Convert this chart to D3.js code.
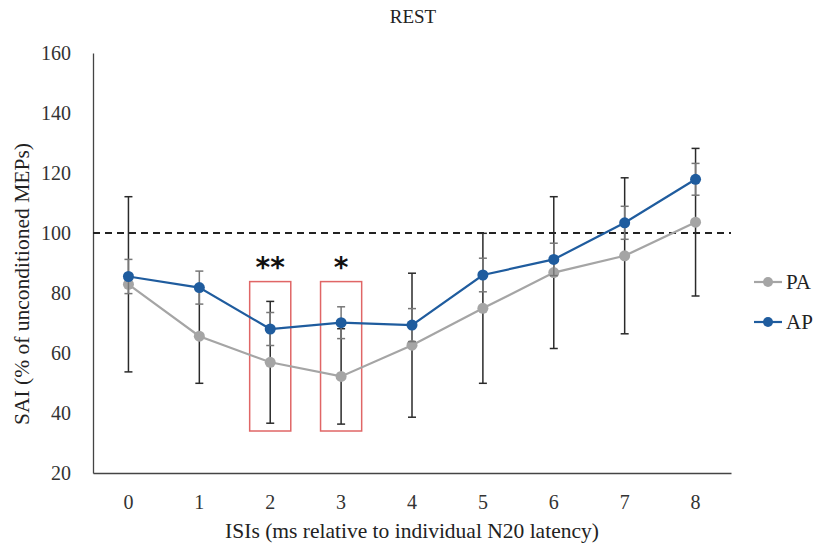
<!DOCTYPE html>
<html>
<head>
<meta charset="utf-8">
<script src="https://cdn.jsdelivr.net/npm/d3@7"></script>
<style>
  body { margin: 0; background: #fff; }
</style>
</head>
<body>
<div id="chart"></div>
<script>
const isis = ["0", "1", "2", "3", "4", "5", "6", "7", "8"];
const paMean = [82.9, 65.6, 56.9, 52.2, 62.6, 74.9, 86.8, 92.4, 103.6];
const paErr = [29.2, 15.7, 20.3, 15.9, 24.0, 25.0, 25.3, 26.0, 24.6];
const apMean = [85.5, 81.8, 68.0, 70.1, 69.3, 86.0, 91.2, 103.4, 117.9];
const apErr = [5.7, 5.5, 5.5, 5.3, 5.5, 5.6, 5.4, 5.5, 5.3];
const yTicks = [20, 40, 60, 80, 100, 120, 140, 160];
const signif = [{isi: "2", mark: "**"}, {isi: "3", mark: "*"}];

const SERIF = "'Liberation Serif', 'DejaVu Serif', serif";

var width = 827,
    height = 546;

var svg = d3.select("#chart").append("svg")
    .attr("width", width)
    .attr("height", height);

const x = d3.scaleBand().domain(isis).range([93, 731]);
const y = d3.scaleLinear().domain([20, 160]).range([473, 53]);
const cx = d => x(d) + x.bandwidth() / 2;

// y axis
const yAxis = svg.append("g")
    .attr("transform", "translate(93,0)")
    .call(d3.axisLeft(y).tickValues(yTicks).tickSize(0).tickPadding(22));
yAxis.select(".domain").attr("stroke", "#444").attr("stroke-width", 1.3);
yAxis.selectAll("text")
    .style("font-family", SERIF).style("font-size", "20px").attr("fill", "#333");

// x axis
const xAxis = svg.append("g")
    .attr("transform", "translate(0,473)")
    .call(d3.axisBottom(x).tickSize(0).tickPadding(22));
xAxis.select(".domain").attr("stroke", "#444").attr("stroke-width", 1.3);
xAxis.selectAll("text")
    .style("font-family", SERIF).style("font-size", "20px").attr("fill", "#333");

// reference line at 100
svg.append("line")
    .attr("x1", 93).attr("x2", 731)
    .attr("y1", y(100)).attr("y2", y(100))
    .attr("stroke", "#222")
    .attr("stroke-width", 1.8)
    .attr("stroke-dasharray", "7,5");

// titles
svg.append("text")
    .attr("x", 413).attr("y", 23)
    .attr("text-anchor", "middle")
    .style("font-family", SERIF)
    .style("font-size", "19px")
    .attr("fill", "#222")
    .text("REST");

svg.append("text")
    .attr("x", 412).attr("y", 538)
    .attr("text-anchor", "middle")
    .style("font-family", SERIF)
    .style("font-size", "21.5px")
    .attr("fill", "#222")
    .text("ISIs (ms relative to individual N20 latency)");

svg.append("text")
    .attr("transform", "translate(29,284) rotate(-90)")
    .attr("text-anchor", "middle")
    .style("font-family", SERIF)
    .style("font-size", "21.5px")
    .attr("fill", "#222")
    .text("SAI (% of unconditioned MEPs)");

// significance boxes
const boxHalf = x.bandwidth() * 0.29;
svg.append("g")
  .selectAll("rect")
  .data(signif)
  .join("rect")
    .attr("x", d => cx(d.isi) - boxHalf)
    .attr("width", boxHalf * 2)
    .attr("y", y(83.8))
    .attr("height", y(34) - y(83.8))
    .attr("fill", "none")
    .attr("stroke", "#e06666")
    .attr("stroke-width", 1.5);

svg.append("g")
  .selectAll("text")
  .data(signif)
  .join("text")
    .attr("x", d => cx(d.isi))
    .attr("y", y(83.8) - 5)
    .attr("text-anchor", "middle")
    .style("font-family", "'DejaVu Sans', sans-serif")
    .style("font-size", "28px")
    .style("font-weight", "bold")
    .attr("fill", "#111")
    .text(d => d.mark);

function series(mean, err, barColor) {
  const pts = isis.map((k, i) => ({k: k, m: mean[i], e: err[i]}));
  const g = svg.append("g");
  // error bars
  const eb = g.append("g").attr("stroke", barColor).attr("stroke-width", 1.5);
  eb.selectAll("line.v").data(pts).join("line").attr("class", "v")
      .attr("x1", d => cx(d.k)).attr("x2", d => cx(d.k))
      .attr("y1", d => y(d.m + d.e)).attr("y2", d => y(d.m - d.e));
  eb.selectAll("line.t").data(pts).join("line").attr("class", "t")
      .attr("x1", d => cx(d.k) - 4).attr("x2", d => cx(d.k) + 4)
      .attr("y1", d => y(d.m + d.e)).attr("y2", d => y(d.m + d.e));
  eb.selectAll("line.b").data(pts).join("line").attr("class", "b")
      .attr("x1", d => cx(d.k) - 4).attr("x2", d => cx(d.k) + 4)
      .attr("y1", d => y(d.m - d.e)).attr("y2", d => y(d.m - d.e));
  return {g: g, pts: pts};
}

function drawLine(s, color) {
  s.g.append("path")
      .datum(s.pts)
      .attr("fill", "none")
      .attr("stroke", color)
      .attr("stroke-width", 2.2)
      .attr("d", d3.line().x(d => cx(d.k)).y(d => y(d.m)));
  s.g.selectAll("circle").data(s.pts).join("circle")
      .attr("cx", d => cx(d.k)).attr("cy", d => y(d.m))
      .attr("r", 5.5)
      .attr("fill", color);
}

const pa = series(paMean, paErr, "#2a2a2a");
const ap = series(apMean, apErr, "#777");
drawLine(pa, "#a5a5a5");
drawLine(ap, "#1f5c9e");

// legend
const legend = [{name: "PA", color: "#a5a5a5"}, {name: "AP", color: "#1f5c9e"}];
const lg = svg.append("g").selectAll("g").data(legend).join("g")
    .attr("transform", (d, i) => `translate(754,${282 + i * 40})`);
lg.append("line").attr("x1", 0).attr("x2", 28)
    .attr("stroke", d => d.color).attr("stroke-width", 2.2);
lg.append("circle").attr("cx", 14).attr("r", 5).attr("fill", d => d.color);
lg.append("text").attr("x", 32).attr("y", 7)
    .style("font-family", SERIF)
    .style("font-size", "21px")
    .attr("fill", "#222")
    .text(d => d.name);
</script>
</body>
</html>
